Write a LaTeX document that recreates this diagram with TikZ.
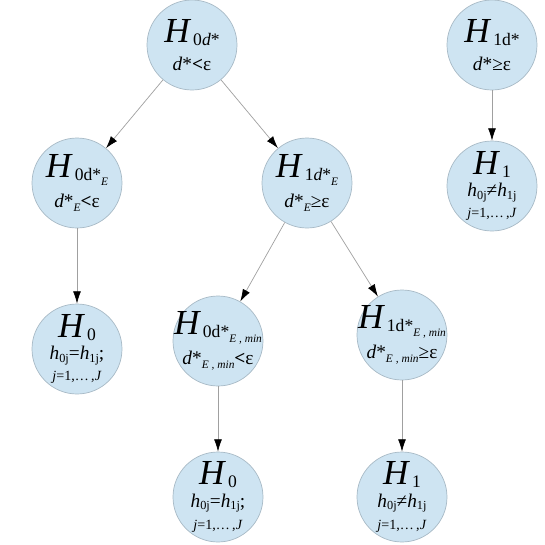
\documentclass[tikz,border=0pt]{standalone}
\usepackage{fontspec}
\setmainfont{Liberation Serif}
\usetikzlibrary{arrows.meta}

\definecolor{hypfill}{RGB}{206,228,242}
\definecolor{hypline}{RGB}{168,186,198}
\definecolor{edgegray}{RGB}{160,160,160}

% big H with a lowered index
\newcommand{\HH}[1]{{\fontsize{20}{20}\selectfont\itshape H}\hspace{2pt}\raisebox{-2pt}{\fontsize{10}{10}\selectfont #1}}
\newcommand{\lowE}[1]{\raisebox{-2.5pt}{\fontsize{6.5}{6.5}\selectfont\itshape #1}}
\newcommand{\lowj}[1]{\raisebox{-1.5pt}{\fontsize{7}{7}\selectfont #1}}
\newcommand{\jrow}{{\fontsize{8}{8}\selectfont\textit{j}=1,\ldots\,,\textit{J}}}

\begin{document}
\begin{tikzpicture}[->,>={Latex[length=7pt,width=4.5pt,color=black]},x=1cm,y=1cm,node distance=3cm,
    hyp/.style={circle,draw=hypline,fill=hypfill,line width=0.4pt,minimum size=1.8cm,inner sep=-12pt,align=center,font=\fontsize{11}{12}\selectfont},
    link/.style={draw=edgegray,line width=0.4pt}]
    \useasboundingbox (0,0) rectangle (10.9,-10.9);
                \node[hyp] (root) at (3.84,-0.90) {\HH{0\textit{d}*}\\[4pt] \textit{d}*\textbf{<}ε};
                \node[hyp] (alt) at (9.84,-0.90) {\HH{1d*}\\[4pt] \textit{d}*≥ε};
                \node[hyp] (e0) at (1.54,-3.66) {\HH{0d*\lowE{E}}\\[4pt] \textit{d}*\lowE{E}\textbf{<}ε};
                \node[hyp] (e1) at (6.14,-3.66) {\HH{1\textit{d}*\lowE{E}}\\[4pt] \textit{d}*\lowE{E}≥ε};
                \node[hyp] (m0) at (4.36,-6.82) {\HH{0d*\lowE{E , min}}\\[3pt] \textit{d}*\lowE{E , min}\textbf{<}ε};
                \node[hyp] (m1) at (8.04,-6.70) {\HH{1d*\lowE{E , min}}\\[3pt] \textit{d}*\lowE{E , min}≥ε};
                \node[hyp] (alt1) [below of=alt, node distance=2.82cm] {\HH{1}\\[1pt] \textit{h}\lowj{0j}≠\textit{h}\lowj{1j}\\[0pt] \jrow};
                \node[hyp] (e00) [below of=e0, node distance=3.32cm] {\HH{0}\\[1pt] \textit{h}\lowj{0j}=\textit{h}\lowj{1j};\\[0pt] \jrow};
                \node[hyp] (m00) [below of=m0, node distance=3.12cm] {\HH{0}\\[1pt] \textit{h}\lowj{0j}=\textit{h}\lowj{1j};\\[1pt] \jrow};
                \node[hyp] (m11) [below of=m1, node distance=3.24cm] {\HH{1}\\[1pt] \textit{h}\lowj{0j}≠\textit{h}\lowj{1j}\\[1pt] \jrow};

                \path[link]
                    (root) edge (e0)
                    (root) edge (e1)
                    (alt) edge (alt1)
                    (e0) edge (e00)
                    (e1) edge (m0)
                    (e1) edge (m1)
                    (m0) edge (m00)
                    (m1) edge (m11)
                    ;
            \end{tikzpicture}
\end{document}
